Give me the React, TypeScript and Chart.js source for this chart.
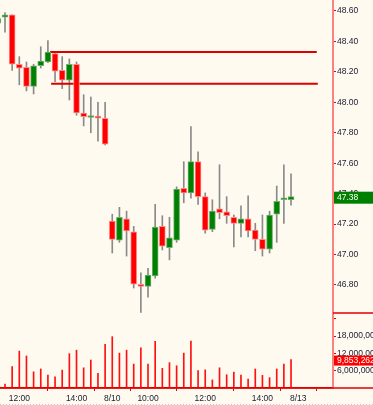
import React, { useEffect, useRef } from 'react';
import { Chart, registerables } from 'chart.js';

Chart.register(...registerables);

// Candles, slot -1 .. 40 (15-minute bars)
const OPEN = [48.52, 48.56, 48.575, 48.25, 48.23, 48.105, 48.24, 48.265, 48.32, 48.21, 48.145, 48.25, 47.93, 47.9, 47.91, 47.895,
  47.22, 47.095, 47.235, 47.15, 46.805, 46.79, 46.86, 47.185, 47.045, 47.095, 47.435, 47.405, 47.61, 47.38, 47.165,
  47.3, 47.28, 47.245, 47.205, 47.235, 47.16, 47.1, 47.035, 47.265, 47.36, 47.36];
const HIGH = [48.56, 48.59, 48.575, 48.3, 48.265, 48.25, 48.365, 48.405, 48.335, 48.3, 48.285, 48.265, 48.05, 48.035, 48.0, 48.0,
  47.265, 47.31, 47.285, 47.185, 46.88, 46.91, 47.33, 47.255, 47.245, 47.445, 47.61, 47.84, 47.675, 47.405, 47.36,
  47.59, 47.38, 47.26, 47.32, 47.385, 47.205, 47.26, 47.285, 47.45, 47.59, 47.53];
const LOW = [48.51, 48.46, 48.21, 48.115, 48.075, 48.055, 48.225, 48.26, 48.135, 48.09, 48.015, 47.915, 47.845, 47.8, 47.745, 47.72,
  47.01, 47.08, 46.99, 46.78, 46.62, 46.72, 46.845, 47.03, 46.965, 47.08, 47.34, 47.37, 47.33, 47.14, 47.15,
  47.235, 47.205, 47.05, 47.115, 47.115, 47.025, 46.99, 47.01, 47.08, 47.205, 47.325];
const CLOSE = [48.55, 48.575, 48.25, 48.225, 48.105, 48.24, 48.27, 48.33, 48.205, 48.145, 48.25, 47.93, 47.905, 47.905, 47.895, 47.725,
  47.1, 47.245, 47.155, 46.805, 46.79, 46.865, 47.18, 47.055, 47.11, 47.43, 47.405, 47.61, 47.38, 47.16, 47.285,
  47.275, 47.255, 47.205, 47.235, 47.155, 47.1, 47.035, 47.26, 47.35, 47.37, 47.38];
const VOLUME = [null, 1.4e6, 7.4e6, 12.8e6, 11.1e6, 5.6e6, 6.6e6, 4.5e6, 3.9e6, 6.2e6, 11.9e6, 13.1e6, 7.0e6, 9.7e6, 5.1e6, 15.1e6,
  17.8e6, 12.1e6, 13.1e6, 8.3e6, 13.9e6, 8.3e6, 16.2e6, 6.8e6, 8.8e6, 7.7e6, 12.1e6, 16.3e6, 6.0e6, 6.3e6, 2.8e6,
  7.0e6, 4.6e6, 5.5e6, 4.5e6, 3.1e6, 6.6e6, 4.4e6, 3.6e6, 6.6e6, 8.3e6, 9853262];
const FIRST_SLOT = -1;

// Horizontal support / resistance lines
const LINE1 = { from: 6.3, to: 43.6, price: 48.331 };
const LINE2 = { from: 6.45, to: 43.75, price: 48.122 };

// Axis ticks
const X_TICK_SLOTS = [2, 10, 15, 20, 28, 36, 41];
const X_TICK_LABELS = ['12:00', '14:00', '8/10', '10:00', '12:00', '14:00', '8/13'];
const PRICE_MIN = 46.616;
const PRICE_MAX = 48.672;
const PRICE_STEP = 0.2;
const VOL_MAX = 26e6;
const VOL_TICKS = [6e6, 12e6, 18e6, 24e6];
const VOL_LABELLED_MAX = 18e6;

const UP = '#008000';
const DOWN = '#ff0000';
const FONT = '"Liberation Sans", Arial, sans-serif';

export default function App() {
  const ref = useRef<HTMLCanvasElement | null>(null);

  useEffect(() => {
    document.body.style.margin = '0';
    const canvas = ref.current!;
    const slots = OPEN.map((_, k) => k + FIRST_SLOT);
    const bodies = slots.map((s, k) => ({ x: s, y: [OPEN[k], CLOSE[k]] }));
    const wicks = slots.map((s, k) => ({ x: s, y: [LOW[k], HIGH[k]] }));
    const vols = slots.map((s, k) => ({ x: s, y: VOLUME[k] }));
    const bodyColors = slots.map((_, k) => (CLOSE[k] >= OPEN[k] ? UP : DOWN));
    const bodyBorders = slots.map((_, k) => (CLOSE[k] >= OPEN[k] ? '#6fb06f' : '#ff8a8a'));
    const lastClose = CLOSE[CLOSE.length - 1];
    const lastVol = VOLUME[VOLUME.length - 1] as number;

    const noPad = (w: number) => (s: any) => {
      s.width = w;
      s.paddingTop = 0;
      s.paddingBottom = 0;
    };

    const overlay = {
      id: 'overlay',
      beforeDraw(chart: any) {
        const c = chart.ctx;
        c.save();
        c.fillStyle = '#fffaf0';
        c.fillRect(0, 0, chart.width, chart.height);
        c.restore();
      },
      afterDraw(chart: any) {
        const c = chart.ctx;
        const ys = chart.scales.y;
        const vs = chart.scales.v;
        c.save();
        c.strokeStyle = '#e00000';
        c.lineWidth = 1.5;
        c.beginPath();
        c.moveTo(ys.left, ys.bottom);
        c.lineTo(chart.width, ys.bottom);
        c.stroke();
        c.beginPath();
        c.moveTo(0, vs.bottom);
        c.lineTo(chart.width, vs.bottom);
        c.stroke();
        // dotted line at bottom
        c.strokeStyle = '#c8c8c8';
        c.lineWidth = 1;
        c.setLineDash([1, 2]);
        c.beginPath();
        c.moveTo(0, chart.height - 0.5);
        c.lineTo(chart.width, chart.height - 0.5);
        c.stroke();
        c.setLineDash([]);
        // last price tag
        c.font = '8.5px ' + FONT;
        c.textBaseline = 'middle';
        c.textAlign = 'left';
        const py = ys.getPixelForValue(lastClose);
        c.fillStyle = UP;
        c.fillRect(ys.left + 1, py - 5, chart.width - ys.left, 12);
        c.fillStyle = '#ffffff';
        c.fillText(lastClose.toFixed(2), ys.left + 4, py + 1);
        // last volume tag
        const vy = vs.getPixelForValue(lastVol);
        c.fillStyle = DOWN;
        c.fillRect(vs.left + 1, vy - 4, chart.width - vs.left, 10);
        c.fillStyle = '#ffffff';
        c.fillText(lastVol.toLocaleString('en-US'), vs.left + 4, vy + 1);
        c.restore();
      },
    };

    const chart = new Chart(canvas, {
      type: 'bar',
      data: {
        datasets: [
          {
            type: 'bar',
            data: bodies as any,
            backgroundColor: bodyColors,
            borderColor: bodyBorders,
            borderWidth: 1,
            borderSkipped: false,
            barThickness: 6,
            minBarLength: 2,
            grouped: false,
            yAxisID: 'y',
            order: 0,
          },
          {
            type: 'bar',
            data: wicks as any,
            backgroundColor: '#8a8a8a',
            barThickness: 1,
            grouped: false,
            yAxisID: 'y',
            order: 2,
          },
          {
            type: 'line',
            data: [{ x: LINE1.from, y: LINE1.price }, { x: LINE1.to, y: LINE1.price }],
            borderColor: '#dd0000',
            borderWidth: 2,
            pointRadius: 0,
            yAxisID: 'y',
            order: 1,
          },
          {
            type: 'line',
            data: [{ x: LINE2.from, y: LINE2.price }, { x: LINE2.to, y: LINE2.price }],
            borderColor: '#dd0000',
            borderWidth: 2,
            pointRadius: 0,
            yAxisID: 'y',
            order: 1,
          },
          {
            type: 'bar',
            data: vols as any,
            backgroundColor: '#ff1010',
            barThickness: 1,
            grouped: false,
            yAxisID: 'v',
            order: 3,
          },
        ] as any,
      },
      options: {
        animation: false,
        responsive: false,
        devicePixelRatio: 1,
        layout: { padding: 0 },
        plugins: { legend: { display: false }, tooltip: { enabled: false } },
        scales: {
          x: {
            type: 'linear',
            min: -0.7,
            max: 45.87,
            offset: false,
            afterFit: (s: any) => {
              s.height = 17;
              s.paddingLeft = 0;
              s.paddingRight = 0;
            },
            afterBuildTicks: (s: any) => { s.ticks = X_TICK_SLOTS.map((v) => ({ value: v })); },
            ticks: {
              autoSkip: false,
              maxRotation: 0,
              padding: 3,
              color: '#1a1a33',
              font: { size: 8.5, family: FONT },
              callback: (_v: any, i: number) => X_TICK_LABELS[i],
            },
            grid: { drawOnChartArea: false, tickLength: 3, color: '#e00000' },
            border: { color: '#e00000', width: 1.5 },
          },
          y: {
            type: 'linear',
            position: 'right',
            stack: 'main',
            stackWeight: 313,
            min: PRICE_MIN,
            max: PRICE_MAX,
            offset: false,
            afterFit: noPad(40),
            ticks: {
              stepSize: PRICE_STEP,
              includeBounds: false,
              padding: 1,
              color: '#1a1a33',
              font: { size: 8.5, family: FONT },
              callback: (v: any) => Number(v).toFixed(2),
            },
            grid: { drawOnChartArea: false, tickLength: 3, color: '#e00000' },
            border: { color: '#ff8080', width: 2 },
          },
          v: {
            type: 'linear',
            position: 'right',
            stack: 'main',
            stackWeight: 75,
            min: 0,
            max: VOL_MAX,
            offset: false,
            afterFit: noPad(40),
            afterBuildTicks: (s: any) => { s.ticks = VOL_TICKS.map((v) => ({ value: v })); },
            ticks: {
              autoSkip: false,
              padding: 1,
              color: '#1a1a33',
              font: { size: 8.5, family: FONT },
              callback: (v: any) => (v > VOL_LABELLED_MAX ? '' : Number(v).toLocaleString('en-US')),
            },
            grid: { drawOnChartArea: false, tickLength: 3, color: '#e00000' },
            border: { color: '#ff8080', width: 2 },
          },
        },
      } as any,
      plugins: [overlay],
    });
    return () => chart.destroy();
  }, []);

  return (
    <div style={{ position: 'fixed', left: 0, top: 0, width: 373, height: 405 }}>
      <canvas ref={ref} width={373} height={405} style={{ display: 'block', width: 373, height: 405 }} />
    </div>
  );
}
